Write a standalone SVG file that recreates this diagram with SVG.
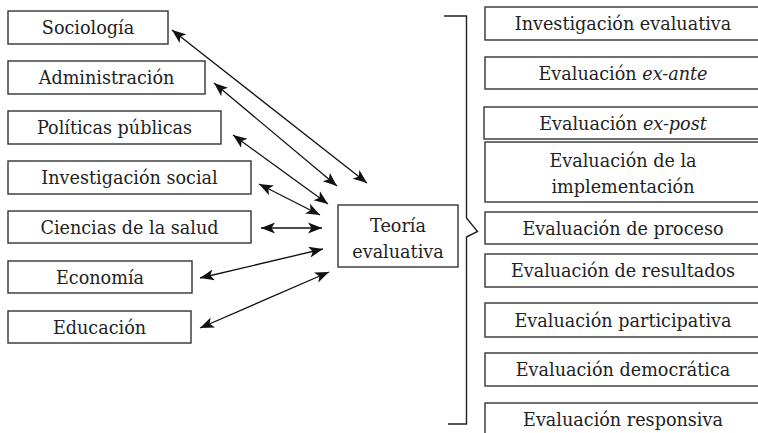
<svg xmlns="http://www.w3.org/2000/svg" width="758" height="433" viewBox="0 0 758 433">
<defs>
<marker id="ah" viewBox="0 -6 14 12" refX="14" refY="0" markerWidth="14" markerHeight="12" markerUnits="userSpaceOnUse" orient="auto-start-reverse">
<path d="M14,0 L0,-5.5 L3.5,0 L0,5.5 Z" fill="#111"/>
</marker>
</defs>
<style>
.box{fill:#fff;stroke:#333;stroke-width:1.4}
.t{font-family:"DejaVu Serif","Liberation Serif",serif;font-size:17.6px;fill:#222;text-anchor:middle}
.i{font-style:italic}
.c{stroke:#111;stroke-width:1.3;fill:none;marker-start:url(#ah);marker-end:url(#ah)}
.br{stroke:#222;stroke-width:1.4;fill:none}
</style>
<rect width="758" height="433" fill="#fff"/>
<g id="sociologia"><rect class="box" x="8" y="11" width="160" height="33"/><text class="t" x="88" y="34">Sociología</text></g>
<g id="administracion"><rect class="box" x="8" y="61" width="197" height="33"/><text class="t" x="106.5" y="84">Administración</text></g>
<g id="politicas"><rect class="box" x="8" y="111" width="213" height="33"/><text class="t" x="114.5" y="134">Políticas públicas</text></g>
<g id="investigacion-social"><rect class="box" x="8" y="161" width="243" height="33"/><text class="t" x="129.5" y="184">Investigación social</text></g>
<g id="ciencias"><rect class="box" x="8" y="211" width="243" height="32"/><text class="t" x="129.5" y="233.5">Ciencias de la salud</text></g>
<g id="economia"><rect class="box" x="8" y="261" width="184" height="32"/><text class="t" x="100" y="283.5">Economía</text></g>
<g id="educacion"><rect class="box" x="8" y="311" width="183" height="32"/><text class="t" x="99.5" y="333.5">Educación</text></g>
<g id="teoria"><rect class="box" x="338" y="205" width="120" height="62"/><text class="t" x="398" y="232">Teoría</text><text class="t" x="398" y="258">evaluativa</text></g>
<g id="bracket"><path class="br" d="M444,16 H466.5 V218 L477.5,231.5 L466.5,237 V424 H448"/></g>
<g id="connectors">
<line class="c" x1="172" y1="30" x2="367" y2="183"/>
<line class="c" x1="214" y1="83" x2="337" y2="186"/>
<line class="c" x1="233" y1="135" x2="328" y2="204"/>
<line class="c" x1="259" y1="184" x2="320" y2="215"/>
<line class="c" x1="261" y1="228" x2="322" y2="228"/>
<line class="c" x1="200" y1="278" x2="323" y2="249"/>
<line class="c" x1="200" y1="328" x2="329" y2="272"/>
</g>
<g id="investigacion-evaluativa"><rect class="box" x="485" y="7" width="280" height="33"/><text class="t" x="623" y="30">Investigación evaluativa</text></g>
<g id="ex-ante"><rect class="box" x="485" y="57" width="280" height="32"/><text class="t" x="623" y="79.5">Evaluación <tspan class="i">ex-ante</tspan></text></g>
<g id="ex-post"><rect class="box" x="484" y="107" width="281" height="32"/><text class="t" x="623" y="129.5">Evaluación <tspan class="i">ex-post</tspan></text></g>
<g id="implementacion"><rect class="box" x="485" y="142" width="280" height="60"/><text class="t" x="623" y="167">Evaluación de la</text><text class="t" x="623" y="193">implementación</text></g>
<g id="proceso"><rect class="box" x="485" y="212" width="280" height="32"/><text class="t" x="623" y="234.5">Evaluación de proceso</text></g>
<g id="resultados"><rect class="box" x="485" y="254" width="280" height="33"/><text class="t" x="623" y="277">Evaluación de resultados</text></g>
<g id="participativa"><rect class="box" x="485" y="303" width="280" height="34"/><text class="t" x="623" y="326.5">Evaluación participativa</text></g>
<g id="democratica"><rect class="box" x="485" y="353" width="280" height="33"/><text class="t" x="623" y="376">Evaluación democrática</text></g>
<g id="responsiva"><rect class="box" x="485" y="403" width="280" height="40"/><text class="t" x="623" y="426">Evaluación responsiva</text></g>
</svg>
